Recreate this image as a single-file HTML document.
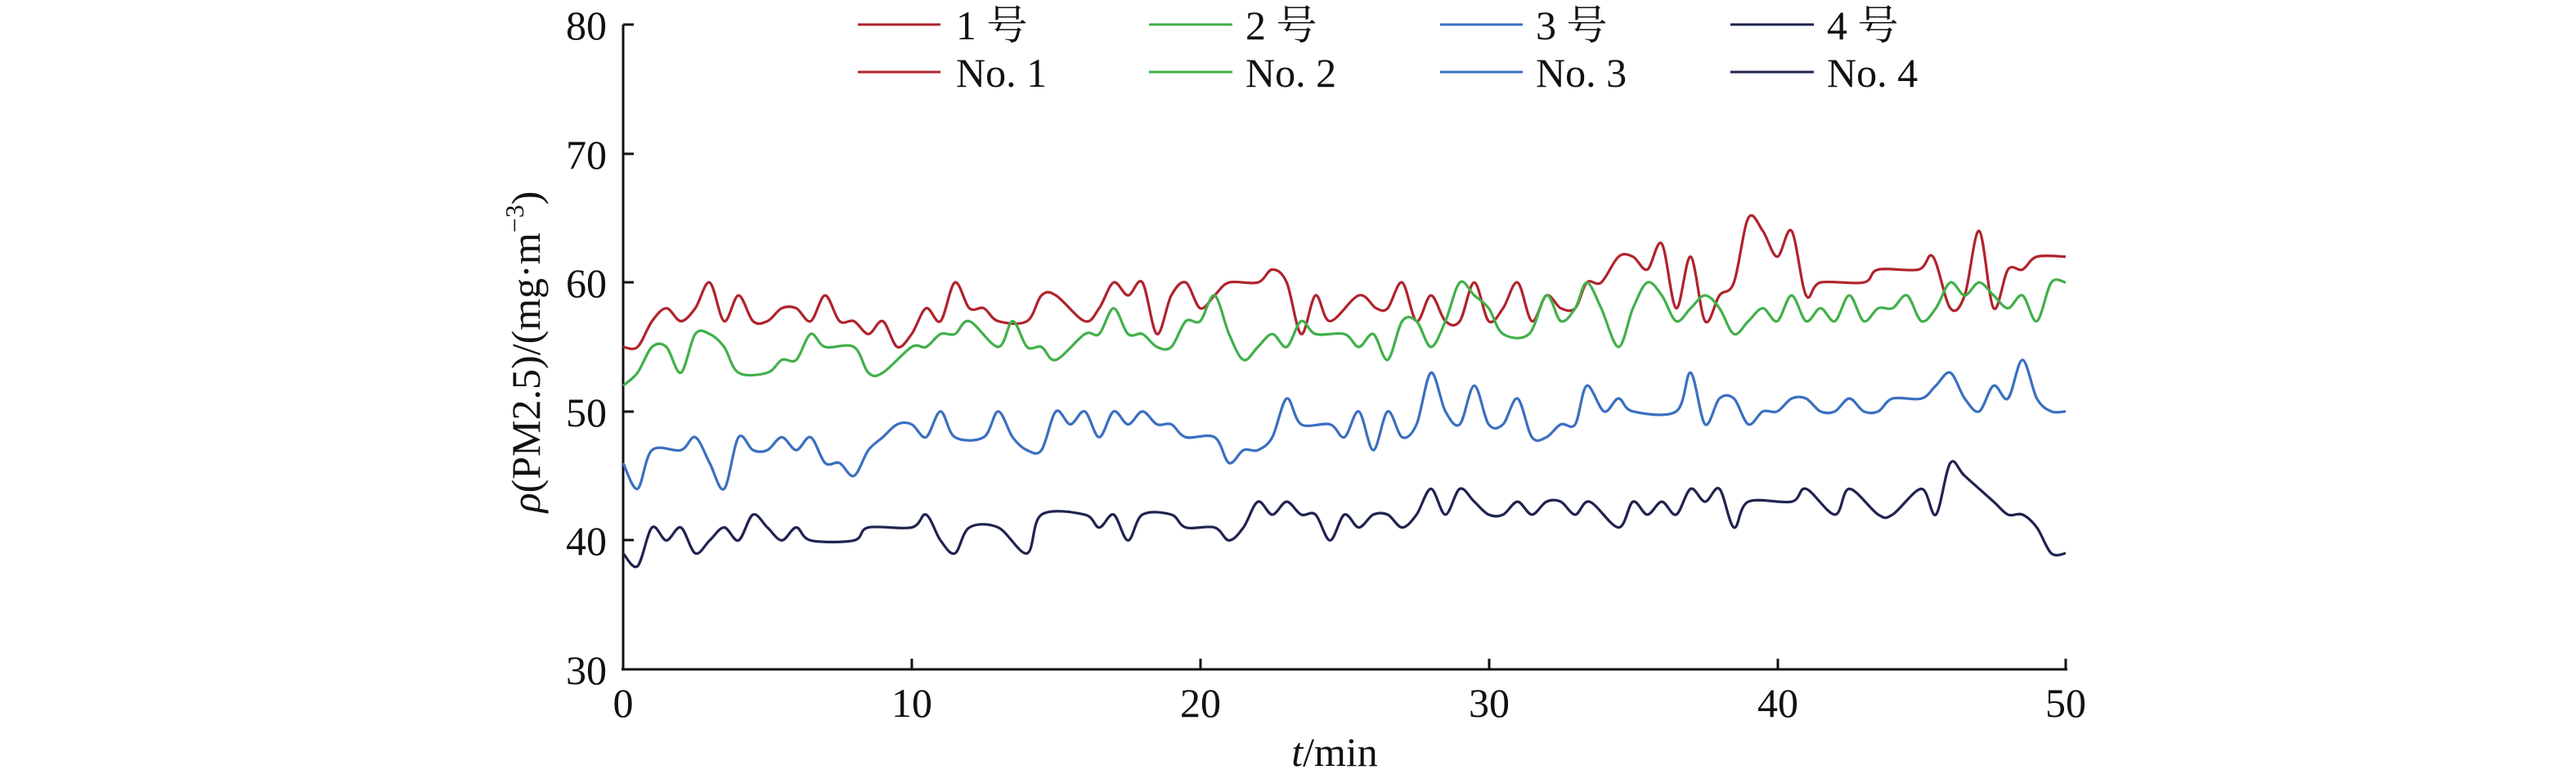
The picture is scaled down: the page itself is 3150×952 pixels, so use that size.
<!DOCTYPE html>
<html><head><meta charset="utf-8"><style>
html,body{margin:0;padding:0;background:#fff;}
svg{display:block;}
text{font-family:"Liberation Serif","Noto Serif CJK SC",serif;fill:#111;}
</style></head><body>
<svg id="s" width="3150" height="952" viewBox="0 0 3150 952" xmlns="http://www.w3.org/2000/svg">
<g stroke="#111" stroke-width="3" fill="none">
<line x1="762" y1="30" x2="762" y2="819"/>
<line x1="760" y1="818" x2="2528" y2="818"/>
<line x1="762" y1="30" x2="775" y2="30"/>
<line x1="762" y1="188" x2="775" y2="188"/>
<line x1="762" y1="345" x2="775" y2="345"/>
<line x1="762" y1="503" x2="775" y2="503"/>
<line x1="762" y1="660" x2="775" y2="660"/>
<line x1="1115" y1="818" x2="1115" y2="805"/>
<line x1="1468" y1="818" x2="1468" y2="805"/>
<line x1="1821" y1="818" x2="1821" y2="805"/>
<line x1="2174" y1="818" x2="2174" y2="805"/>
<line x1="2526" y1="818" x2="2526" y2="805"/>
</g>
<g font-size="50" text-anchor="end">
<text x="742" y="48">80</text>
<text x="742" y="206">70</text>
<text x="742" y="363">60</text>
<text x="742" y="521">50</text>
<text x="742" y="678">40</text>
<text x="742" y="836">30</text>
</g>
<g font-size="50" text-anchor="middle">
<text x="762" y="876">0</text>
<text x="1115" y="876">10</text>
<text x="1468" y="876">20</text>
<text x="1821" y="876">30</text>
<text x="2174" y="876">40</text>
<text x="2526" y="876">50</text>
<text x="1632" y="936"><tspan font-style="italic">t</tspan>/min</text>
</g>
<text font-size="50" text-anchor="middle" transform="translate(660,430) rotate(-90)"><tspan font-style="italic">ρ</tspan>(PM2.5)/(mg·m<tspan font-size="32" dy="-20">−3</tspan><tspan dy="20">)</tspan></text>
<g stroke-width="3">
<line x1="1049" y1="30" x2="1150" y2="30" stroke="#b0232c"/>
<line x1="1049" y1="88" x2="1150" y2="88" stroke="#b0232c"/>
<line x1="1405" y1="30" x2="1507" y2="30" stroke="#41b04a"/>
<line x1="1405" y1="88" x2="1507" y2="88" stroke="#41b04a"/>
<line x1="1761" y1="30" x2="1862" y2="30" stroke="#3a6fc0"/>
<line x1="1761" y1="88" x2="1862" y2="88" stroke="#3a6fc0"/>
<line x1="2116" y1="30" x2="2218" y2="30" stroke="#1f2350"/>
<line x1="2116" y1="88" x2="2218" y2="88" stroke="#1f2350"/>
</g>
<g font-size="50">
<text x="1169" y="48">1 号</text><text x="1169" y="106">No. 1</text>
<text x="1523" y="48">2 号</text><text x="1523" y="106">No. 2</text>
<text x="1878" y="48">3 号</text><text x="1878" y="106">No. 3</text>
<text x="2234" y="48">4 号</text><text x="2234" y="106">No. 4</text>
</g>
<g id="series" fill="none" stroke-width="3.2" stroke-linejoin="round"></g>
</svg>
<script>
var D={
"#b0232c":[[0,55],[0.5,55],[1,57],[1.5,58],[2,57],[2.5,58],[3,60],[3.5,57],[4,59],[4.5,57],[5,57],[5.5,58],[6,58],[6.5,57],[7,59],[7.5,57],[8,57],[8.5,56],[9,57],[9.5,55],[10,56],[10.5,58],[11,57],[11.5,60],[12,58],[12.5,58],[13,57],[14,57],[14.5,59],[15,59],[16,57],[16.5,58],[17,60],[17.5,59],[18,60],[18.5,56],[19,59],[19.5,60],[20,58],[20.5,59],[21,60],[22,60],[22.5,61],[23,60],[23.5,56],[24,59],[24.5,57],[25.5,59],[26.1,58],[26.5,58],[27,60],[27.5,57],[28,59],[28.5,57],[29,57],[29.5,60],[30,57],[30.5,58],[31,60],[31.5,57],[32,59],[32.5,58],[33,58],[33.4,60],[33.9,60],[34.5,62],[35,62],[35.5,61],[36,63],[36.5,58],[37,62],[37.5,57],[38,59],[38.5,60],[39,65],[39.5,64],[40,62],[40.5,64],[41,59],[41.5,60],[43,60],[43.5,61],[44.9,61],[45.4,62],[46,58],[46.5,59],[47,64],[47.5,58],[48,61],[48.5,61],[49,62],[50,62]],
"#41b04a":[[0,52],[0.5,53],[1,55],[1.5,55],[2,53],[2.5,56],[3,56],[3.5,55],[4,53],[5,53],[5.5,54],[6,54],[6.5,56],[7,55],[8,55],[8.5,53],[9,53],[10,55],[10.5,55],[11,56],[11.5,56],[12,57],[13,55],[13.5,57],[14,55],[14.5,55],[15,54],[16,56],[16.5,56],[17,58],[17.5,56],[18,56],[18.5,55],[19,55],[19.5,57],[20,57],[20.5,59],[21,56],[21.5,54],[22,55],[22.5,56],[23,55],[23.5,57],[24,56],[25,56],[25.5,55],[26,56],[26.5,54],[27,57],[27.5,57],[28,55],[28.5,57],[29,60],[29.5,59],[30,58],[30.5,56],[31.4,56],[32,59],[32.5,57],[33,58],[33.4,60],[33.9,58],[34.5,55],[35,58],[35.5,60],[36,59],[36.5,57],[37,58],[37.5,59],[38,58],[38.5,56],[39,57],[39.5,58],[40,57],[40.5,59],[41,57],[41.5,58],[42,57],[42.5,59],[43,57],[43.5,58],[44,58],[44.5,59],[45,57],[45.5,58],[46,60],[46.5,59],[47,60],[47.5,59],[48,58],[48.5,59],[49,57],[49.5,60],[50,60]],
"#3a6fc0":[[0,46],[0.5,44],[1,47],[2,47],[2.5,48],[3,46],[3.5,44],[4,48],[4.5,47],[5,47],[5.5,48],[6,47],[6.5,48],[7,46],[7.5,46],[8,45],[8.5,47],[9,48],[9.5,49],[10,49],[10.5,48],[11,50],[11.5,48],[12.5,48],[13,50],[13.5,48],[14,47],[14.5,47],[15,50],[15.5,49],[16,50],[16.5,48],[17,50],[17.5,49],[18,50],[18.5,49],[19,49],[19.5,48],[20.5,48],[21,46],[21.5,47],[22,47],[22.5,48],[23,51],[23.5,49],[24.5,49],[25,48],[25.5,50],[26,47],[26.5,50],[27,48],[27.5,49],[28,53],[28.5,50],[29,49],[29.5,52],[30,49],[30.5,49],[31,51],[31.5,48],[32,48],[32.5,49],[33,49],[33.4,52],[34,50],[34.5,51],[35,50],[36.5,50],[37,53],[37.5,49],[38,51],[38.5,51],[39,49],[39.5,50],[40,50],[40.5,51],[41,51],[41.5,50],[42,50],[42.5,51],[43,50],[43.5,50],[44,51],[45,51],[45.5,52],[46,53],[46.5,51],[47,50],[47.5,52],[48,51],[48.5,54],[49,51],[49.5,50],[50,50]],
"#1f2350":[[0,39],[0.5,38],[1,41],[1.5,40],[2,41],[2.5,39],[3,40],[3.5,41],[4,40],[4.5,42],[5,41],[5.5,40],[6,41],[6.5,40],[8,40],[8.5,41],[10,41],[10.5,42],[11,40],[11.5,39],[12,41],[13,41],[14,39],[14.5,42],[16,42],[16.5,41],[17,42],[17.5,40],[18,42],[19,42],[19.5,41],[20.5,41],[21,40],[21.5,41],[22,43],[22.5,42],[23,43],[23.5,42],[24,42],[24.5,40],[25,42],[25.5,41],[26,42],[26.5,42],[27,41],[27.5,42],[28,44],[28.5,42],[29,44],[29.5,43],[30,42],[30.5,42],[31,43],[31.5,42],[32,43],[32.5,43],[33,42],[33.5,43],[34.5,41],[35,43],[35.5,42],[36,43],[36.5,42],[37,44],[37.5,43],[38,44],[38.5,41],[39,43],[40.5,43],[41,44],[42,42],[42.5,44],[43.5,42],[44,42],[45,44],[45.5,42],[46,46],[46.5,45],[47.5,43],[48,42],[48.5,42],[49,41],[49.5,39],[50,39]]
};
function X(t){return 762+t*35.28;}
function Y(v){return 818-(v-30)*15.76;}
var g=document.getElementById('series');
for(var c in D){
 var p=D[c].map(function(a){return [X(a[0]),Y(a[1])];});
 var d='M'+p[0][0].toFixed(1)+' '+p[0][1].toFixed(1);
 for(var i=0;i<p.length-1;i++){
  var p0=p[i-1]||p[i],p1=p[i],p2=p[i+1],p3=p[i+2]||p2;
  var c1x=p1[0]+(p2[0]-p0[0])/6,c1y=p1[1]+(p2[1]-p0[1])/6;
  var c2x=p2[0]-(p3[0]-p1[0])/6,c2y=p2[1]-(p3[1]-p1[1])/6;
  d+=' C'+c1x.toFixed(1)+' '+c1y.toFixed(1)+' '+c2x.toFixed(1)+' '+c2y.toFixed(1)+' '+p2[0].toFixed(1)+' '+p2[1].toFixed(1);
 }
 var e=document.createElementNS('http://www.w3.org/2000/svg','path');
 e.setAttribute('d',d);e.setAttribute('stroke',c);g.appendChild(e);
}
</script>
</body></html>
